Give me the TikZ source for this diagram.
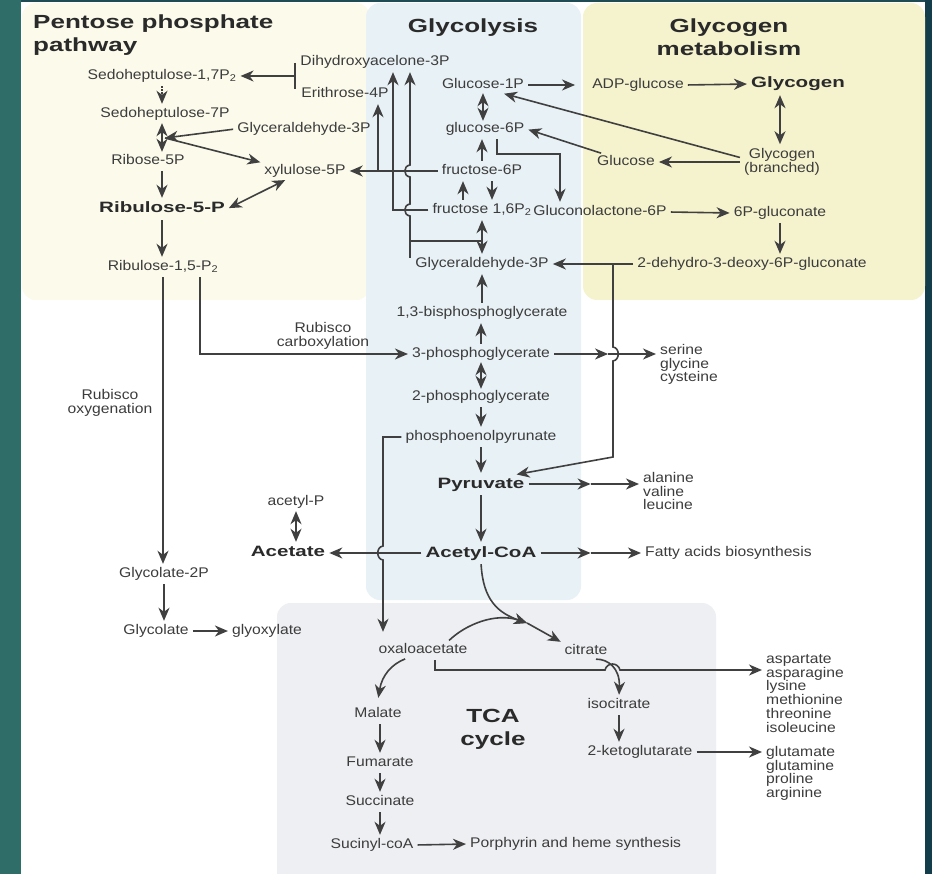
\documentclass[tikz,border=0pt]{standalone}
\usepackage{fontspec}
\setmainfont{Liberation Sans}[FakeStretch=1.12]
\newfontfamily\widefont{Liberation Sans}[FakeStretch=1.37]
\usetikzlibrary{arrows.meta, positioning, calc}

\definecolor{txt}{HTML}{3C3C3C}
\definecolor{txtd}{HTML}{2A2A2A}
\definecolor{lncol}{HTML}{404040}
\definecolor{pppbg}{HTML}{FBFAEB}
\definecolor{glybg}{HTML}{E8F1F5}
\definecolor{gcgbg}{HTML}{F5F3CD}
\definecolor{tcabg}{HTML}{EEEFF2}
\definecolor{lbar}{HTML}{2F6D68}
\definecolor{rbar}{HTML}{133D4A}
\definecolor{tbar}{HTML}{1F4C54}

\begin{document}
\begin{tikzpicture}[x=1pt, y=-1pt,
    lab/.style={font=\fontsize{14}{14}\selectfont, text=txt, inner sep=2pt,
                text height=9.5pt, text depth=2.5pt},
    big/.style={font=\widefont\bfseries\fontsize{15}{15}\selectfont, text=txtd,
                inner sep=2pt, text height=11pt, text depth=3pt},
    hd/.style={font=\widefont\bfseries\fontsize{19}{23}\selectfont, text=txtd,
               align=center, inner sep=2pt},
    lst/.style={font=\fontsize{14}{13.8}\selectfont, text=txt, align=left,
                inner sep=2pt},
    con/.style={draw=lncol, line width=1.6pt, shorten >=2pt, shorten <=2pt},
    >={Stealth[length=13pt, width=11pt, inset=4pt]},
]
\useasboundingbox (0,0) rectangle (932,874);
% --- frame and panels --------------------------------------------------------
\fill[white] (0,0) rectangle (932,874);
\fill[lbar] (0,0) rectangle (21,874);
\fill[rbar] (925,0) rectangle (932,874);
\fill[tbar] (21,0) rectangle (925,2);
\fill[pppbg, rounded corners=14pt] (22,3) rectangle (370,300);
\fill[glybg, rounded corners=14pt] (366,3) rectangle (581,600);
\fill[gcgbg, rounded corners=14pt] (583,3) rectangle (925,300);
\begin{scope}
  \clip (21,2) rectangle (925,874);
  \fill[tcabg, rounded corners=14pt] (277,603) rectangle (716,890);
\end{scope}

% --- pentose phosphate pathway ----------------------------------------------
\node[hd, align=left, anchor=west] (tppp) at (31,35) {Pentose phosphate\\pathway};
\node[lab] (sh17)  at (162,76)  {Sedoheptulose-1,7P\textsubscript{2}};
\node[lab] (sh7)   at (165,114) {Sedoheptulose-7P};
\node[lab] (r5p)   at (148,161) {Ribose-5P};
\node[big] (ru5p)  at (162,209) {Ribulose-5-P};
\node[lab] (rubp)  at (163,267) {Ribulose-1,5-P\textsubscript{2}};
\node[lab] (dhap)  at (375,62)  {Dihydroxyacelone-3P};
\node[lab] (e4p)   at (345,94)  {Erithrose-4P};
\node[lab] (gapL)  at (304,129) {Glyceraldehyde-3P};
\node[lab] (x5p)   at (305,171) {xylulose-5P};
\node[lst, align=center] (rcarb) at (323,336) {Rubisco\\carboxylation};
\node[lst, align=center] (roxy)  at (110,403) {Rubisco\\oxygenation};
\node[lab] (g2p)   at (164,574) {Glycolate-2P};
\node[lab] (glyc)  at (156,631) {Glycolate};
\node[lab] (glyox) at (267,631) {glyoxylate};
\node[lab] (acp)   at (296,502) {acetyl-P};
\node[big] (acet)  at (288,552) {Acetate};

% --- glycolysis ---------------------------------------------------------------
\node[hd] (tgly) at (473,28) {Glycolysis};
\node[lab] (g1p)   at (483,85)  {Glucose-1P};
\node[lab] (g6p)   at (485,129) {glucose-6P};
\node[lab] (f6p)   at (482,171) {fructose-6P};
\node[lab] (fbp)   at (482,210) {fructose 1,6P\textsubscript{2}};
\node[lab] (gap)   at (482,264) {Glyceraldehyde-3P};
\node[lab] (bpg)   at (482,313) {1,3-bisphosphoglycerate};
\node[lab] (pg3)   at (481,354) {3-phosphoglycerate};
\node[lab] (pg2)   at (481,397) {2-phosphoglycerate};
\node[lab] (pep)   at (481,437) {phosphoenolpyrunate};
\node[big] (pyr)   at (481,484) {Pyruvate};
\node[big] (accoa) at (481,553) {Acetyl-CoA};

% --- glycogen metabolism --------------------------------------------------------
\node[hd] (tgcg) at (729,37) {Glycogen\\metabolism};
\node[lab] (adpg)  at (638,85)  {ADP-glucose};
\node[big] (gcg)   at (798,84)  {Glycogen};
\node[lst, align=center, font=\fontsize{14}{13}\selectfont] (glyb) at (782,162) {Glycogen\\(branched)};
\node[lab] (glc)   at (626,162) {Glucose};
\node[lab] (glcl)  at (600,212) {Gluconolactone-6P};
\node[lab] (pgl6)  at (780,213) {6P-gluconate};
\node[lab] (kdpg)  at (752,264) {2-dehydro-3-deoxy-6P-gluconate};

% --- products -----------------------------------------------------------------
\node[lst, anchor=north west] (sgc) at (658,342) {serine\\glycine\\cysteine};
\node[lst, anchor=north west] (avl) at (641,470) {alanine\\valine\\leucine};
\node[lab, anchor=west] (fatty) at (643,553) {Fatty acids biosynthesis};

% --- TCA cycle ----------------------------------------------------------------
\node[hd] (ttca) at (493,729) {TCA\\cycle};
\node[lab] (oaa)   at (423,650) {oxaloacetate};
\node[lab] (cit)   at (586,651) {citrate};
\node[lab] (icit)  at (619,705) {isocitrate};
\node[lab] (akg)   at (640,752) {2-ketoglutarate};
\node[lab] (mal)   at (378,714) {Malate};
\node[lab] (fum)   at (380,763) {Fumarate};
\node[lab] (suc)   at (380,802) {Succinate};
\node[lab] (sucoa) at (372,845) {Sucinyl-coA};
\node[lab, anchor=west] (porph) at (468,844) {Porphyrin and heme synthesis};
\node[lst, anchor=north west] (asp) at (764,652) {aspartate\\asparagine\\lysine\\methionine\\threonine\\isoleucine};
\node[lst, anchor=north west] (glu) at (764,744) {glutamate\\glutamine\\proline\\arginine};

% --- helper points ----------------------------------------------------------------
\coordinate (barT) at (295,63);
\coordinate (barB) at (295,89);
\coordinate (barM) at (295,76);
\coordinate (jx)   at (165,138);
\coordinate (e4pj) at (378,171);
\coordinate (tj)   at (410,241);
\coordinate (kj)   at (613,264);
\coordinate (pk)   at (383,437);
\coordinate (citm) at (527,623);
\coordinate (hop2) at (620,670);

% --- connectors: pentose side --------------------------------------------------
\draw[draw=lncol, line width=1.6pt] (barT) -- (barB);
\draw[con, ->, shorten <=0pt] (barM) -- (sh17.east);
\draw[con, ->, dash pattern=on 1.4pt off 1.6pt] (ru5p.north |- sh17.south) -- (ru5p.north |- sh7.north);
\draw[con, <->, shorten >=1pt, shorten <=1pt] (ru5p.north |- sh7.south) -- (ru5p.north |- r5p.north);
\draw[con, ->, shorten >=0pt] (gapL.west) -- (jx);
\draw[con, ->, shorten <=0pt] (jx) -- (x5p.north west);
\draw[con, ->] (ru5p.north |- r5p.south) -- (ru5p.north);
\draw[con, <->] (ru5p.east) -- ([xshift=-18pt]x5p.south);
\draw[con, ->] (ru5p.south) -- (ru5p.south |- rubp.north);
\draw[con, ->] ([xshift=37pt]rubp.south) |- (pg3.west);
\draw[con, ->] (rubp.south) -- (rubp.south |- g2p.north);
\draw[con, ->] (g2p.south) -- (g2p.south |- glyc.north);
\draw[con, ->] (glyc.east) -- (glyox.west);
\draw[con, <->, shorten >=1pt, shorten <=1pt] (acp.south) -- (acp.south |- acet.north);
\draw[con, ->] (accoa.west) -- (accoa.west -| acet.east);

% --- connectors: glycolysis -------------------------------------------------------
\draw[con, <->, shorten >=0pt, shorten <=0pt] (g1p.south) -- (g1p.south |- g6p.north);
\draw[con, ->] ([xshift=12pt]g6p.south) -- ++(0,17) -| ([xshift=-40pt]glcl.north);
\draw[con, ->] (f6p.north) -- (f6p.north |- g6p.south);
\draw[con, ->] ([xshift=10pt]f6p.south) -- ([xshift=10pt]f6p.south |- fbp.north);
\draw[con, ->] ([xshift=-19pt]fbp.north) -- ([xshift=-19pt]fbp.north |- f6p.south);
\draw[con, <->] (fbp.south) -- (gap.north);
\draw[draw=lncol, line width=1.6pt] (tj) -- (tj -| gap.north);
\draw[con, ->, shorten <=0pt] (410,258) -- (410,216) .. controls (403,215) and (403,205) .. (410,204)
   -- (410,177) .. controls (403,176) and (403,166) .. (410,165) -- ([xshift=35pt]dhap.south);
\draw[con, ->] (fbp.west) -| ([xshift=18pt]dhap.south);
\draw[con, ->] (f6p.west) -- (x5p.east);
\draw[con, ->, shorten <=0pt] (e4pj) -- (e4pj |- e4p.south);
\draw[con, ->] (bpg.north) -- (gap.south);
\draw[con, ->] (pg3.north) -- (pg3.north |- bpg.south);
\draw[con, <->, shorten >=0pt, shorten <=0pt] (pg3.south) -- (pg3.south |- pg2.north);
\draw[con, ->] (pg2.south) -- (pg2.south |- pep.north);
\draw[con, ->] (pep.south) -- (pep.south |- pyr.north);
\draw[con, ->] (pyr.south) -- (pyr.south |- accoa.north);
\draw[con, ->] (pep.west) -- (pk) -- (383,546) .. controls (376,547) and (376,559) .. (383,560)
   -- ([yshift=8pt]oaa.north -| pk);
\draw[con, ->, shorten >=0pt] (pg3.east) -- ++(56,0);
\draw[con, ->, shorten <=0pt] ([xshift=56pt]pg3.east) -- (sgc.west |- pg3.east);
\draw[con, ->, shorten >=0pt] (pyr.east) -- ++(64,0);
\draw[con, ->, shorten <=0pt] ([xshift=64pt]pyr.east) -- (avl.west |- pyr.east);
\draw[con, ->, shorten >=0pt] (accoa.east) -- ++(52,0);
\draw[con, ->, shorten <=0pt] ([xshift=52pt]accoa.east) -- (fatty.west);

% --- connectors: glycogen ----------------------------------------------------------
\draw[con, ->, shorten >=15pt] (g1p.east) -- (adpg.west);
\draw[con, ->] (adpg.east) -- (gcg.west);
\draw[con, <->] ([xshift=-18pt]gcg.south) -- ([xshift=-18pt]gcg.south |- glyb.north);
\draw[con, ->] (glyb.west) -- (glyb.west -| glc.east);
\draw[con, ->] ([yshift=4pt]glyb.west) -- ([xshift=-24pt]g1p.south east);
\draw[con, ->] ([xshift=8pt]glc.north west) -- (g6p.east);
\draw[con, ->] (glcl.east) -- (pgl6.west);
\draw[con, ->] (pgl6.south) -- (pgl6.south |- kdpg.north);
\draw[con, ->] (kdpg.west) -- (gap.east);
\draw[con, ->, shorten <=0pt] (kj) -- (613,347) .. controls (620,348) and (620,360) .. (613,361)
   -- (613,457) -- ([xshift=-12pt]pyr.north east);

% --- connectors: TCA cycle -----------------------------------------------------------
\draw[con, ->, shorten >=0pt] (accoa.south) .. controls (483,600) and (498,613) .. (citm);
\draw[con, ->, shorten >=0pt] ([xshift=-22pt]oaa.north east) .. controls (465,625) and (495,612) .. (citm);
\draw[con, ->, shorten <=0pt] (citm) -- (cit.north west);
\draw[con, ->] ([xshift=-16pt]oaa.south) .. controls (392,664) and (382,675) .. ([yshift=6pt]mal.north);
\draw[con, ->] (mal.south -| fum.north) -- (fum.north);
\draw[con, ->] (fum.south) -- (suc.north);
\draw[con, ->] (suc.south) -- (suc.south |- sucoa.north);
\draw[con, ->] (sucoa.east) -- (porph.west);
\draw[con, ->] ([xshift=12pt]oaa.south) |- (605,670) .. controls (607,662) and (618,662) .. (hop2)
   -- (asp.west |- hop2);
\draw[con, ->] ([xshift=8pt]cit.south) .. controls (608,659) and (620,668) .. (icit.north);
\draw[con, ->] (icit.south) -- (icit.south |- akg.north);
\draw[con, ->] (akg.east) -- (glu.west |- akg.east);
\end{tikzpicture}
\end{document}
